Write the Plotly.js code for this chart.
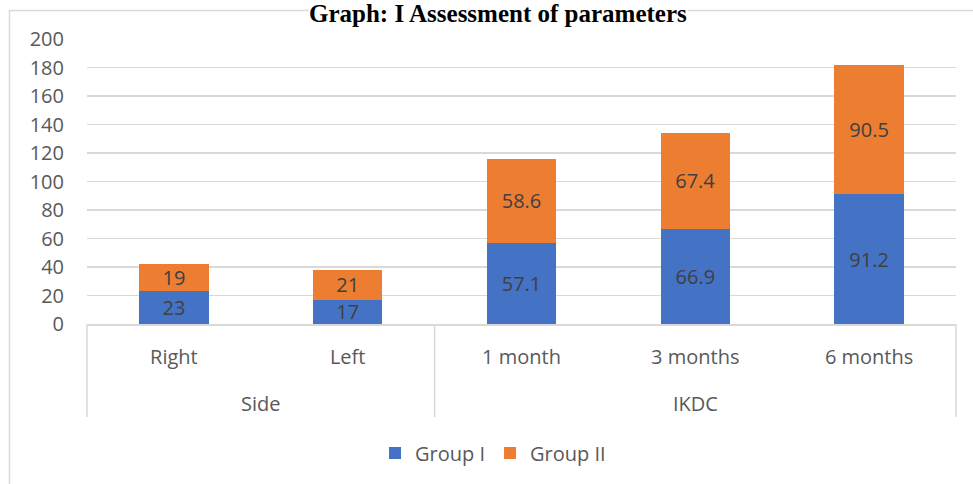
<!DOCTYPE html>
<html>
<head>
<meta charset="utf-8">
<script src="https://cdn.plot.ly/plotly-3.0.1.min.js"></script>
<style>html,body{margin:0;padding:0;background:#fff;}#chart{width:973px;height:484px;}</style>
</head>
<body>
<div id="chart"></div>
<script>
const groupNames = ["Side", "IKDC"];
const groupSizes = [2, 3];
const categories = ["Right", "Left", "1 month", "3 months", "6 months"];
const groupI = [23, 17, 57.1, 66.9, 91.2];
const groupII = [19, 21, 58.6, 67.4, 90.5];
const seriesNames = ["Group I", "Group II"];
const titleText = "Graph: I Assessment of parameters";

const W = 973, H = 484;
const L = 87, R = 17, T = 39, B = 160;
const pw = W - L - R, ph = H - T - B;
const px = x => (x - L) / pw;
const py = y => (H - B - y) / ph;

const FONT = "Open Sans, sans-serif";
const labelFont = {family: FONT, size: 20, color: "#404040"};

const traces = [
  {type: "bar", name: seriesNames[0], x: categories, y: groupI,
   marker: {color: "#4472C4"}, text: groupI.map(String), textposition: "inside",
   insidetextanchor: "middle", textangle: 0, textfont: labelFont, constraintext: "none", hoverinfo: "none"},
  {type: "bar", name: seriesNames[1], x: categories, y: groupII,
   marker: {color: "#ED7D31"}, text: groupII.map(String), textposition: "inside",
   insidetextanchor: "middle", textangle: 0, textfont: labelFont, constraintext: "none", hoverinfo: "none"}
];

// group dividers and group labels for the two-level category axis
const n = categories.length;
const shapes = [];
const annotations = [];
let start = 0;
shapes.push({type: "line", xref: "paper", yref: "paper", x0: 0, x1: 0, y0: 0, y1: py(417),
             line: {color: "#D9D9D9", width: 1.5}});
groupNames.forEach((g, i) => {
  const end = start + groupSizes[i];
  shapes.push({type: "line", xref: "paper", yref: "paper", x0: end / n, x1: end / n, y0: 0, y1: py(417),
               line: {color: "#D9D9D9", width: 1.5}});
  annotations.push({xref: "x", yref: "paper", x: (start + end - 1) / 2, y: py(403),
                    xanchor: "center", yanchor: "middle", text: g, showarrow: false,
                    font: {family: FONT, size: 20, color: "#595959"}});
  start = end;
});
// chart frame
shapes.push({type: "rect", xref: "paper", yref: "paper", x0: px(9.5), x1: px(1000), y0: py(520), y1: py(10.5),
             line: {color: "#D9D9D9", width: 1.5}, fillcolor: "rgba(0,0,0,0)", layer: "below"});
annotations.push({xref: "paper", yref: "paper", x: px(498), y: py(-1), xanchor: "center", yanchor: "top",
                  text: "<b>" + titleText + "</b>", showarrow: false, borderpad: 0, bgcolor: "#fff",
                  font: {family: "Liberation Serif, Times New Roman, serif", size: 25, color: "#000"}});

const layout = {
  width: W, height: H,
  margin: {l: L, r: R, t: T, b: B},
  barmode: "stack",
  bargap: 0.6,
  paper_bgcolor: "#fff", plot_bgcolor: "#fff",
  font: {family: FONT, size: 20, color: "#595959"},
  xaxis: {
    type: "category",
    showline: true, linecolor: "#D9D9D9", linewidth: 1.5,
    showgrid: false, ticks: "",
    tickfont: {size: 20, color: "#595959"}, ticklabelstandoff: 14
  },
  yaxis: {
    range: [0, 200], dtick: 20, showgrid: true, gridcolor: "#D9D9D9", gridwidth: 1.5,
    zeroline: false, showline: false, ticks: "",
    tickfont: {size: 20, color: "#595959"}, ticklabelstandoff: 22
  },
  showlegend: true,
  legend: {orientation: "h", x: px(493), xanchor: "center", y: py(453), yanchor: "middle",
           font: {size: 20, color: "#595959"}, traceorder: "normal"},
  shapes: shapes,
  annotations: annotations
};

Plotly.newPlot("chart", traces, layout, {displayModeBar: false, staticPlot: true});
</script>
</body>
</html>
